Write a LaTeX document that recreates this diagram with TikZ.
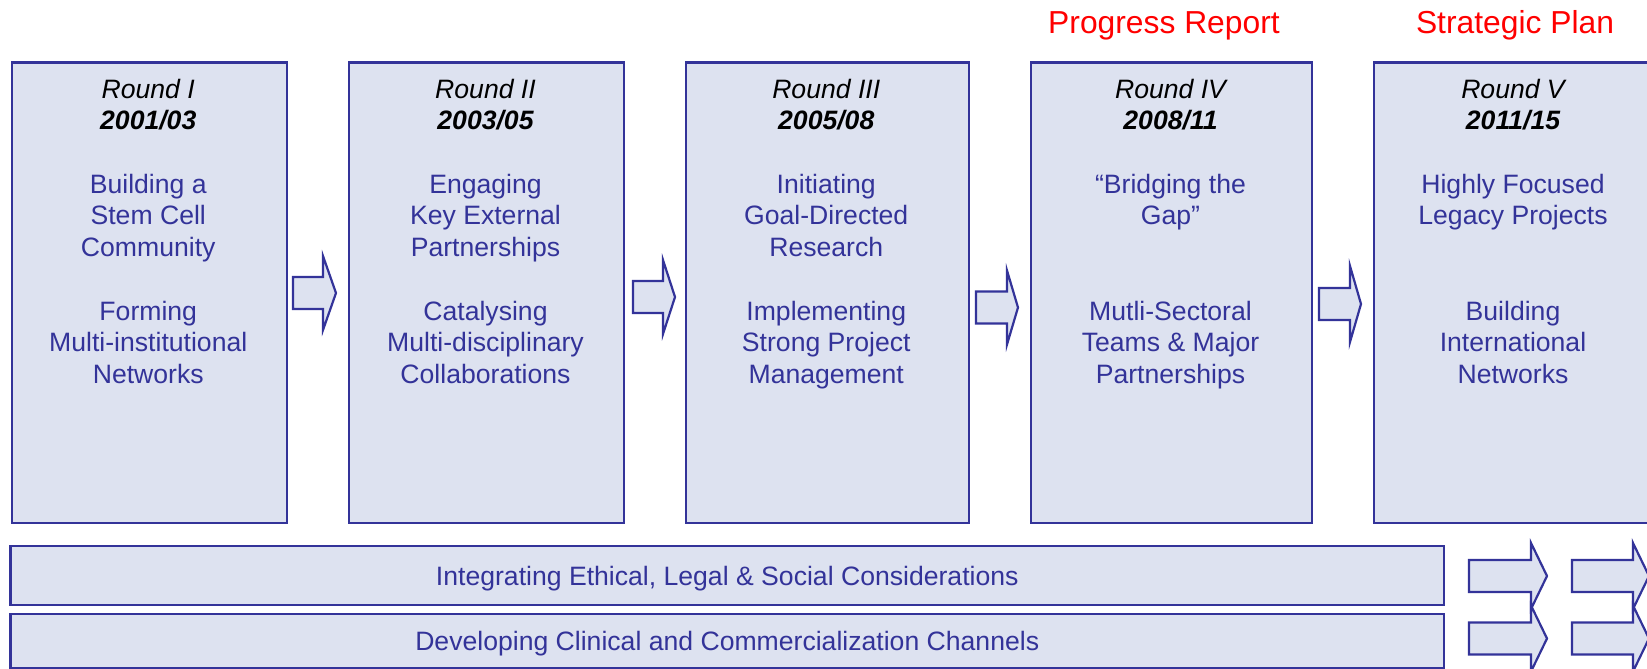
\documentclass[tikz,border=0pt]{standalone}
\usepackage{fontspec}
\setmainfont{Liberation Sans}
\definecolor{boxfill}{HTML}{DDE2F0}
\definecolor{boxline}{HTML}{333399}
\definecolor{txtblue}{HTML}{333399}
\definecolor{redlab}{HTML}{FF0000}
\newcommand\blkarrow[6]{% x0, yc, xbase, xtip, shaft half, head half
  \draw[arrowshape] (#1,{#2-#5}) -- (#3,{#2-#5}) -- (#3,{#2-#6}) -- (#4,#2)
    -- (#3,{#2+#6}) -- (#3,{#2+#5}) -- (#1,{#2+#5}) -- cycle;}
\begin{document}
\begin{tikzpicture}[x=1pt,y=-1pt,
  roundbox/.style={draw=boxline,fill=boxfill,line width=2.2pt,inner sep=0pt,anchor=north west},
  rtext/.style={anchor=north,inner sep=0pt,align=center,text=txtblue,
    font=\fontsize{26.6}{31.7}\selectfont},
  barbox/.style={draw=boxline,fill=boxfill,line width=2.2pt,inner sep=0pt,text=txtblue,
    text height=19pt,text depth=0pt,font=\fontsize{26.6}{31.7}\selectfont},
  redlabel/.style={anchor=base,inner sep=0pt,text=redlab,font=\fontsize{31.8}{36}\selectfont},
  arrowshape/.style={draw=boxline,fill=boxfill,line width=2.2pt,line join=miter}]
\useasboundingbox (0,0) rectangle (1647,669);

% header labels
\node[redlabel] (pr) at (1164,34) {Progress Report};
\node[redlabel] (sp) at (1515,34) {Strategic Plan};

% round boxes
\node[roundbox,minimum width=275.5pt,minimum height=460.5pt] (b1) at (10.5,61.5) {};
\node[roundbox,minimum width=275pt,minimum height=460.5pt] (b2) at (348,61.5) {};
\node[roundbox,minimum width=282.5pt,minimum height=460.5pt] (b3) at (685,61.5) {};
\node[roundbox,minimum width=281pt,minimum height=460.5pt] (b4) at (1030,61.5) {};
\node[roundbox,minimum width=280pt,minimum height=460.5pt] (b5) at (1373,61.5) {};

% texts in boxes
\node[rtext] (t1) at (148.25,75.8) {\strut{\color{black}\itshape Round I}\\{\color{black}\bfseries\itshape 2001/03}\\~\\Building a\\Stem Cell\\Community\\~\\Forming\\Multi-institutional\\Networks};
\node[rtext] (t2) at (485.5,75.8) {\strut{\color{black}\itshape Round II}\\{\color{black}\bfseries\itshape 2003/05}\\~\\Engaging\\Key External\\Partnerships\\~\\Catalysing\\Multi-disciplinary\\Collaborations};
\node[rtext] (t3) at (826.25,75.8) {\strut{\color{black}\itshape Round III}\\{\color{black}\bfseries\itshape 2005/08}\\~\\Initiating\\Goal-Directed\\Research\\~\\Implementing\\Strong Project\\Management};
\node[rtext] (t4) at (1170.5,75.8) {\strut{\color{black}\itshape Round IV}\\{\color{black}\bfseries\itshape 2008/11}\\~\\“Bridging the\\Gap”\\~\\~\\Mutli-Sectoral\\Teams \& Major\\Partnerships};
\node[rtext] (t5) at (1513,75.8) {\strut{\color{black}\itshape Round V}\\{\color{black}\bfseries\itshape 2011/15}\\~\\Highly Focused\\Legacy Projects\\~\\~\\Building\\International\\Networks};

% arrows between boxes
\blkarrow{293}{293}{323}{336}{16}{37}
\blkarrow{633}{297}{663}{675}{16}{37}
\blkarrow{976}{307.5}{1007}{1018}{16}{37}
\blkarrow{1319}{304}{1350}{1361}{16}{38}

% bars
\node[barbox,minimum width=1433.5pt,minimum height=59pt] (bar1) at (727.25,575.5) {Integrating Ethical, Legal \& Social Considerations};
\node[barbox,minimum width=1433.5pt,minimum height=54pt] (bar2) at (727.25,641) {Developing Clinical and Commercialization Channels};

% arrows at the right of the bars
\blkarrow{1469}{576}{1531}{1547}{16}{33}
\blkarrow{1469}{638.5}{1531}{1547}{16}{33}
\blkarrow{1572}{576}{1633}{1649}{16}{33}
\blkarrow{1572}{638.5}{1633}{1649}{16}{33}
\end{tikzpicture}
\end{document}
